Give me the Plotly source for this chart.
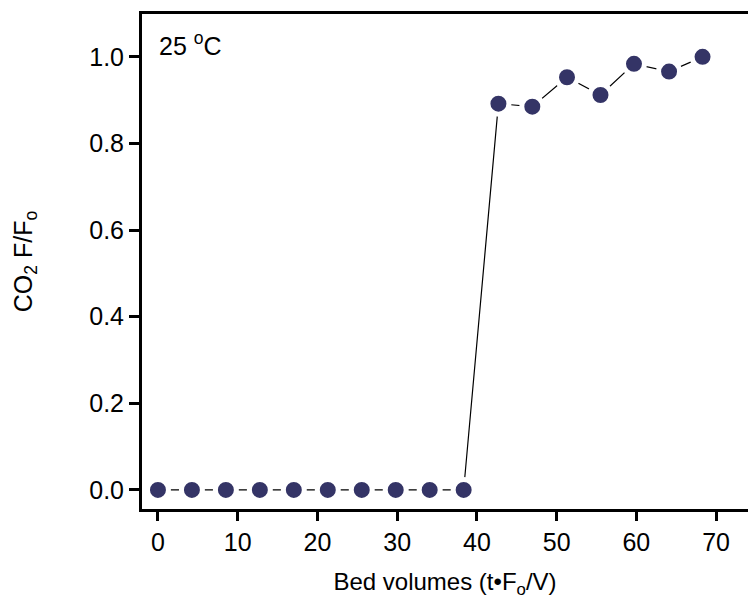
import plotly.graph_objects as go

bed_volumes = [0, 4.26, 8.52, 12.78, 17.04, 21.3, 25.56, 29.82, 34.08, 38.34,
               42.7, 46.95, 51.3, 55.5, 59.7, 64.1, 68.3]
co2_ratio = [0, 0, 0, 0, 0, 0, 0, 0, 0, 0,
             0.892, 0.885, 0.953, 0.912, 0.984, 0.966, 1.0]
x_ticks = [0, 10, 20, 30, 40, 50, 60, 70]
y_ticks = [0.0, 0.2, 0.4, 0.6, 0.8, 1.0]

font = "Liberation Sans, Arial, sans-serif"

fig = go.Figure()
fig.add_trace(go.Scatter(
    x=bed_volumes, y=co2_ratio, mode="lines",
    line=dict(color="black", width=1.2), hoverinfo="skip", showlegend=False))
fig.add_trace(go.Scatter(
    x=bed_volumes, y=co2_ratio, mode="markers",
    marker=dict(color="#343466", size=21, line=dict(color="white", width=5)),
    showlegend=False))

fig.update_layout(
    width=748, height=601,
    margin=dict(l=142, r=0, t=14, b=92),
    paper_bgcolor="white", plot_bgcolor="white",
    font=dict(family=font, size=25, color="black"),
    xaxis=dict(range=[-2.0, 74.0], tickvals=x_ticks, ticktext=[str(v) for v in x_ticks],
               showline=True, linecolor="black", linewidth=3, mirror=True,
               ticks="outside", ticklen=9, tickwidth=2.5, tickcolor="black",
               showgrid=False, zeroline=False,
               title=dict(text="Bed volumes (t•F<sub>o</sub>/V)", standoff=19,
                          font=dict(size=24))),
    yaxis=dict(range=[-0.044, 1.099], tickvals=y_ticks,
               ticktext=[f"{v:.1f}" for v in y_ticks],
               showline=True, linecolor="black", linewidth=3,
               ticks="outside", ticklen=10, tickwidth=2.5, tickcolor="black",
               showgrid=False, zeroline=False,
               title=dict(text="CO<sub>2</sub> F/F<sub>o</sub>", standoff=50,
                          font=dict(size=25))),
    annotations=[dict(text="25 <sup>o</sup>C", x=0.025, y=0.975, xref="paper", yref="paper",
                      xanchor="left", yanchor="top", showarrow=False,
                      font=dict(size=25))],
)

fig.write_html("out.html")
